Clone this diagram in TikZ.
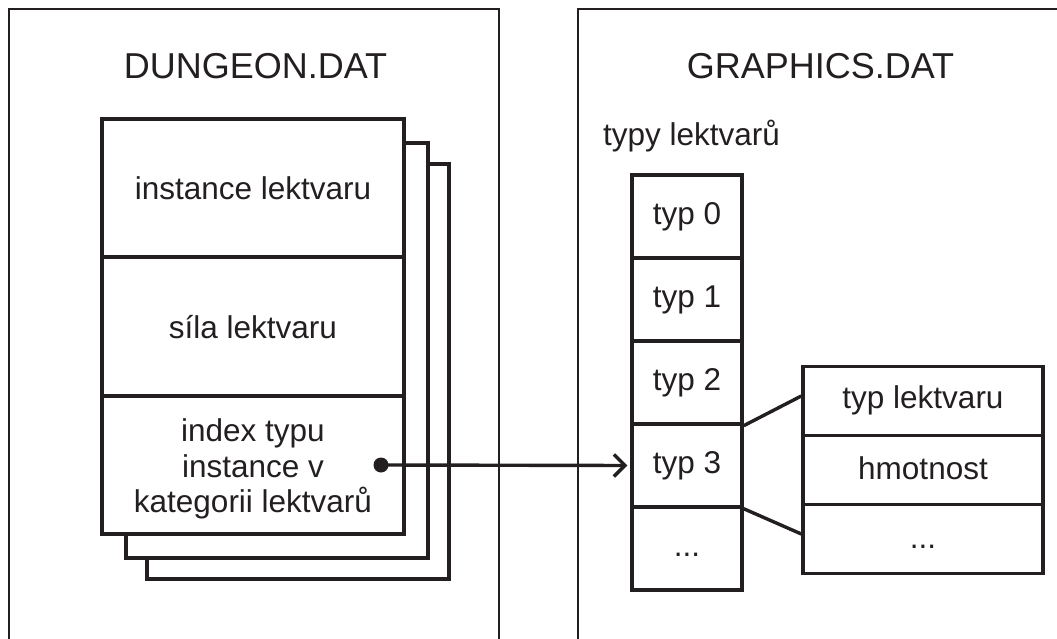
\documentclass[tikz,border=0pt]{standalone}
\usepackage{fontspec}
\setmainfont{Liberation Sans}
\usetikzlibrary{arrows.meta}
\definecolor{ink}{HTML}{231F20}
\newcommand{\bodyfont}{\fontsize{31.5}{35.5}\selectfont}
\newcommand{\titlefont}{\fontsize{36}{40}\selectfont}
\begin{document}
\begin{tikzpicture}[x=1pt,y=-1pt,
  panel/.style={draw=ink,line width=1.4pt},
  sheet/.style={draw=ink,fill=white,line width=3.4pt,inner sep=0pt},
  cell/.style={draw=ink,fill=white,line width=3.4pt,inner sep=0pt,text=ink,font=\bodyfont,text height=22pt,text depth=6.5pt},
  lowtext/.style={text height=26pt,text depth=2pt},
  txt/.style={text=ink,font=\bodyfont,inner sep=0pt},
  title/.style={text=ink,font=\titlefont,inner sep=0pt},
  conn/.style={draw=ink,line width=3.4pt}]
\path[use as bounding box] (0,0) rectangle (1057,639);
\clip (0,0) rectangle (1057,639);
% panels
\draw[panel] (9,700) -- (9,9) -- (499,9) -- (499,700);
\draw[panel] (578,700) -- (578,9) -- (1100,9);
\node[title,anchor=base] (dtitle) at (255.5,79) {DUNGEON.DAT};
\node[title,anchor=base] (gtitle) at (820.5,79) {GRAPHICS.DAT};
% stacked sheets
\node[sheet,minimum width=302pt,minimum height=415pt] (back2) at (298,371.5) {};
\node[sheet,minimum width=302pt,minimum height=415pt] (back1) at (277,350.5) {};
\node[cell,lowtext,minimum width=302pt,minimum height=138pt] (s1) at (253,188) {instance lektvaru};
\node[cell,lowtext,minimum width=302pt,minimum height=139pt] (s2) at (253,326.5) {síla lektvaru};
\node[cell,minimum width=302pt,minimum height=138pt] (s3) at (253,465) {};
\node[txt,align=center] (s3text) at ([yshift=-4pt]s3.center) {index typu\\instance v\\kategorii lektvarů};
% type column
\node[anchor=base west,txt] (lab) at (603,146) {typy lektvarů};
\node[cell,minimum width=110pt,minimum height=83pt] (c0) at (687,216.5) {typ 0};
\node[cell,minimum width=110pt,minimum height=83pt] (c1) at (687,299.5) {typ 1};
\node[cell,minimum width=110pt,minimum height=83pt] (c2) at (687,382.5) {typ 2};
\node[cell,minimum width=110pt,minimum height=83pt] (c3) at (687,465.5) {typ 3};
\node[cell,minimum width=110pt,minimum height=83pt] (c4) at (687,548.5) {...};
% detail
\node[cell,minimum width=240pt,minimum height=69pt] (d1) at (923,401) {typ lektvaru};
\node[cell,minimum width=240pt,minimum height=69pt,text depth=3pt] (d2) at (923,470) {hmotnost};
\node[cell,minimum width=240pt,minimum height=69pt,text depth=3pt] (d3) at (923,539) {...};
\draw[conn] (c2.south east) -- ([yshift=5pt]d1.west);
\draw[conn] (c3.south east) -- ([yshift=5pt]d3.west);
% arrow
\coordinate (src) at (381,465);
\fill[ink] (src) circle (7.5);
\draw[conn,-{Straight Barb[length=11pt,width=22pt]},shorten >=3pt] (src) -- (c3.west);
\end{tikzpicture}
\end{document}
